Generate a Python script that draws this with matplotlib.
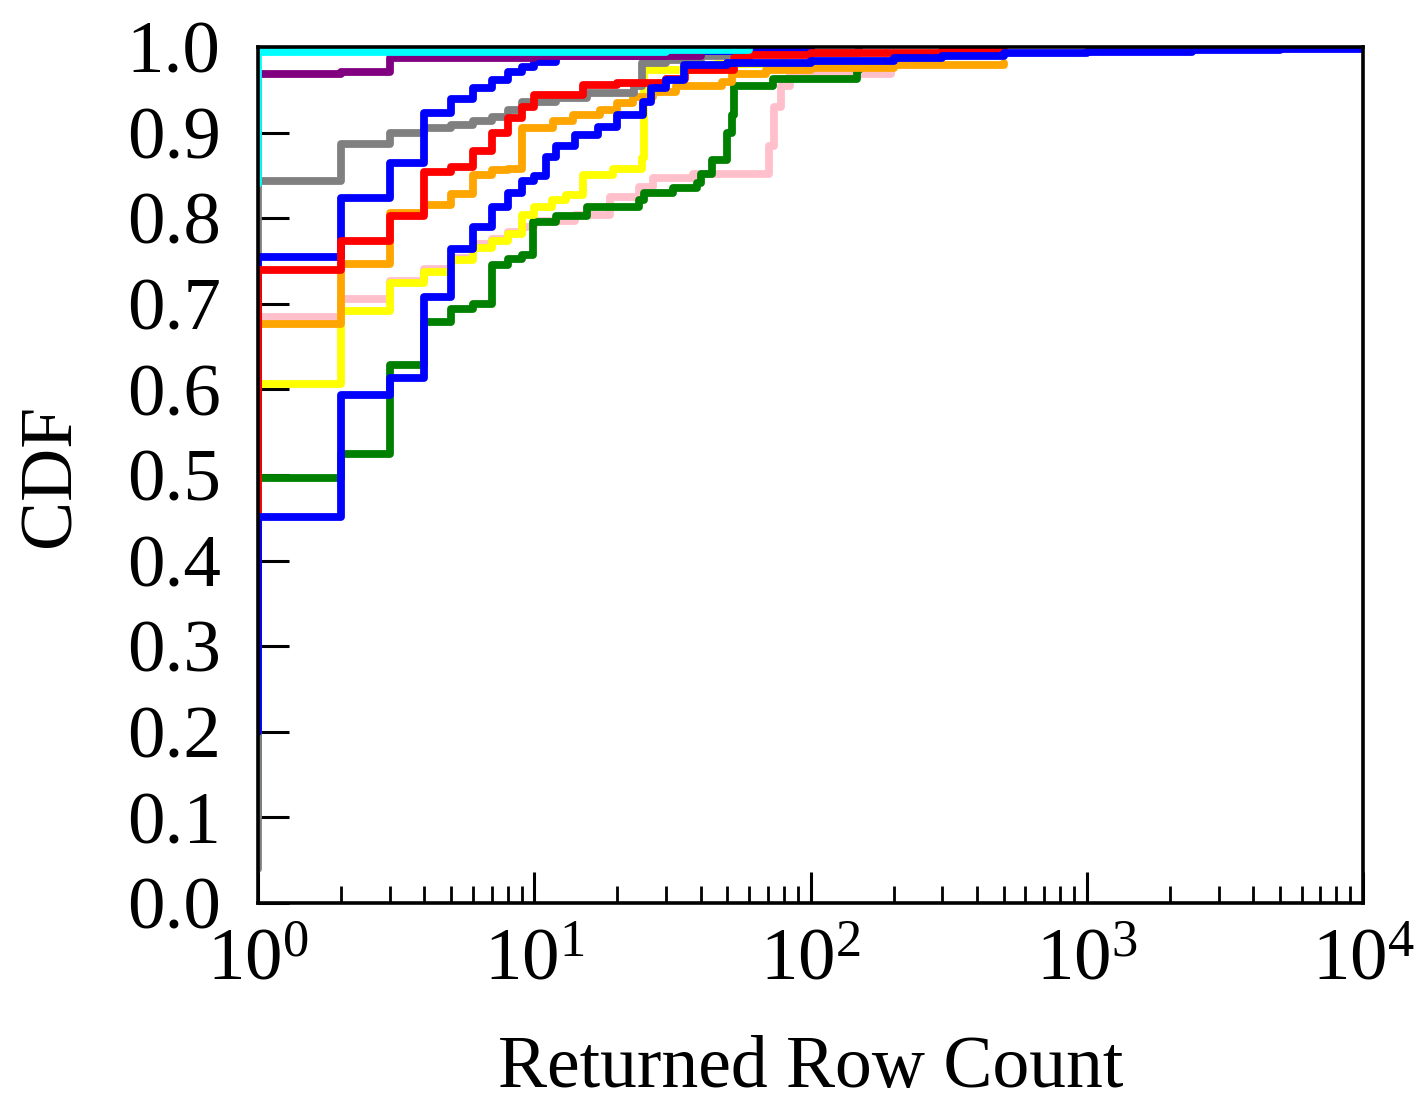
import matplotlib
matplotlib.use('Agg')
import matplotlib.pyplot as plt
from matplotlib.ticker import LogLocator, MultipleLocator, FormatStrFormatter

plt.rcParams['font.family'] = ['Liberation Serif', 'DejaVu Serif']
plt.rcParams['mathtext.fontset'] = 'custom'
plt.rcParams['mathtext.rm'] = 'Liberation Serif'
plt.rcParams['mathtext.it'] = 'Liberation Serif:italic'
plt.rcParams['mathtext.bf'] = 'Liberation Serif:bold'

# step CDFs (row count, cumulative fraction)
pink_x = [1, 1, 2, 3, 4, 5, 6, 7, 8, 9, 10, 14, 18.8, 24, 26.8, 37.6, 71, 74, 78, 84, 195]
pink_y = [0.30, 0.684, 0.706, 0.727, 0.741, 0.753, 0.770, 0.776, 0.784, 0.790, 0.797, 0.804,
          0.825, 0.837, 0.847, 0.852, 0.884, 0.930, 0.955, 0.969, 0.971]

green_x = [1, 1, 2, 3, 4, 5, 6, 7, 8, 9, 9.9, 12, 15.5, 24, 25, 31.8, 38.7, 40, 44, 50, 52,
           53, 73, 147, 150]
green_y = [0.10, 0.497, 0.525, 0.629, 0.679, 0.694, 0.700, 0.745, 0.752, 0.757, 0.796, 0.803,
           0.813, 0.821, 0.829, 0.835, 0.841, 0.852, 0.868, 0.900, 0.920, 0.954, 0.963, 0.973,
           0.973]

yellow_x = [1, 1, 2, 3, 4, 5, 6, 7, 8, 9, 10, 11.6, 13, 15, 19.3, 24.6, 25, 45, 80]
yellow_y = [0.30, 0.606, 0.692, 0.724, 0.7375, 0.751, 0.765, 0.773, 0.782, 0.804, 0.813,
            0.821, 0.827, 0.850, 0.858, 0.870, 0.973, 0.980, 0.985]

orange_x = [1, 1, 2, 3, 4, 5, 6, 7, 8, 9, 11.7, 13.8, 17.3, 20, 22.8, 26.8, 32.7, 48, 52, 69,
            100, 200, 500]
orange_y = [0.30, 0.676, 0.746, 0.806, 0.815, 0.828, 0.850, 0.856, 0.858, 0.905, 0.913, 0.921,
            0.926, 0.934, 0.942, 0.948, 0.954, 0.959, 0.969, 0.973, 0.976, 0.979, 0.981]

gray_x = [1, 1, 2, 3, 4, 5, 6, 7, 8, 9, 12, 15.5, 23, 24.5, 30, 40, 50, 150]
gray_y = [0.04, 0.843, 0.887, 0.899, 0.905, 0.909, 0.913, 0.918, 0.926, 0.936, 0.940, 0.946,
          0.954, 0.981, 0.985, 0.989, 0.993, 1.0]

blue_a_x = [1, 1, 2, 3, 4, 5, 6, 7, 8, 9, 10, 12, 30, 100]
blue_a_y = [0.50, 0.755, 0.824, 0.865, 0.923, 0.939, 0.952, 0.961, 0.971, 0.977, 0.983, 0.990,
            0.995, 1.0]

red_x = [1, 1, 2, 3, 4, 5, 6, 7, 8, 9, 10, 15, 20, 30, 35, 53, 60, 100, 300, 500]
red_y = [0.30, 0.740, 0.773, 0.802, 0.854, 0.860, 0.878, 0.900, 0.917, 0.930, 0.944, 0.956,
         0.958, 0.963, 0.973, 0.987, 0.991, 0.993, 0.995, 0.997]

blue_b_x = [1, 1, 2, 3, 4, 5, 6, 7, 8, 9, 10, 11, 12, 14, 17, 20, 24.8, 26.5, 30, 34.7, 50,
            100, 200, 300, 500, 1000, 2400, 5000, 10000]
blue_b_y = [0.20, 0.4506, 0.593, 0.613, 0.708, 0.764, 0.790, 0.813, 0.829, 0.843, 0.849, 0.872,
            0.884, 0.897, 0.907, 0.921, 0.936, 0.952, 0.961, 0.979, 0.981, 0.984, 0.987, 0.990,
            0.993, 0.994, 0.996, 0.998, 1.0]

purple_x = [1, 1, 2, 3, 10, 40]
purple_y = [0.85, 0.969, 0.971, 0.987, 0.989, 0.992]

cyan_x = [1, 1, 30, 60]
cyan_y = [0.84, 0.994, 0.997, 1.0]

series = [
    (pink_x, pink_y, 'pink'),
    (green_x, green_y, 'green'),
    (yellow_x, yellow_y, 'yellow'),
    (orange_x, orange_y, 'orange'),
    (gray_x, gray_y, 'gray'),
    (blue_a_x, blue_a_y, 'blue'),
    (red_x, red_y, 'red'),
    (blue_b_x, blue_b_y, 'blue'),
    (purple_x, purple_y, 'purple'),
    (cyan_x, cyan_y, 'cyan'),
]

fig = plt.figure(figsize=(14.21, 11.03), dpi=100)
ax = fig.add_axes([0.1816, 0.1813, 0.7776, 0.7761])

for xs, ys, c in series:
    ax.plot(xs, ys, drawstyle='steps-post', color=c, linewidth=5.6,
            solid_capstyle='round', solid_joinstyle='round')

ax.set_xscale('log')
ax.set_xlim(1, 1e4)
ax.set_ylim(0, 1)
ax.yaxis.set_major_locator(MultipleLocator(0.1))
ax.yaxis.set_major_formatter(FormatStrFormatter('%.1f'))
ax.xaxis.set_major_locator(LogLocator(base=10, numticks=10))
ax.xaxis.set_minor_locator(LogLocator(base=10, subs=range(2, 10), numticks=10))

for s in ax.spines.values():
    s.set_linewidth(2.6)

ax.tick_params(axis='both', which='both', direction='in', top=False, right=False)
ax.tick_params(axis='both', which='major', length=22, width=2.2, labelsize=54)
ax.tick_params(axis='x', which='minor', length=12, width=2.0)
ax.tick_params(axis='y', which='major', pad=27)
ax.tick_params(axis='x', which='major', pad=18)

ax.set_xlabel('Returned Row Count', fontsize=53, labelpad=29)
ax.set_ylabel('CDF', fontsize=53, labelpad=30)

fig.savefig('out.png', dpi=100)
